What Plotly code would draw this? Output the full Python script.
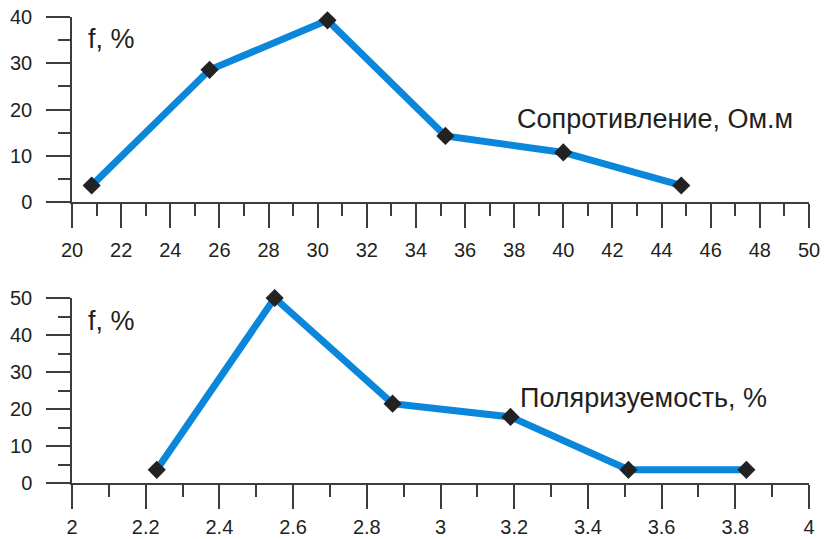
import plotly.graph_objects as go
from plotly.subplots import make_subplots

# Data
res_x = [20.8, 25.6, 30.4, 35.2, 40.0, 44.8]
res_f = [3.57, 28.57, 39.29, 14.29, 10.71, 3.57]
pol_x = [2.23, 2.55, 2.87, 3.19, 3.51, 3.83]
pol_f = [3.57, 50.0, 21.43, 17.86, 3.57, 3.57]

res_label = "Сопротивление, Ом.м"
pol_label = "Поляризуемость, %"
f_label = "f, %"

W, H = 826, 539
L, R, T, B = 72, 17, 17, 56
PW, PH = W - L - R, H - T - B

def px(xp):
    return (xp - L) / PW

def py(yp):
    return (H - B - yp) / PH

BLUE = "#0A87DB"
DARK = "#231F20"
AX = "#3C3C3C"
FONT = "Liberation Sans, Arial, sans-serif"

fig = make_subplots(rows=2, cols=1)

for x, y, r in [(res_x, res_f, 1), (pol_x, pol_f, 2)]:
    fig.add_trace(go.Scatter(
        x=x, y=y, mode="lines+markers",
        line=dict(color=BLUE, width=7),
        marker=dict(symbol="diamond", size=14, color="#222222"),
        showlegend=False, cliponaxis=False), row=r, col=1)

axis_common = dict(showgrid=False, zeroline=False, showline=True, linecolor=AX,
                   linewidth=1.5, ticks="outside", tickcolor=AX, tickwidth=1.5,
                   ticklen=24, automargin=False,
                   tickfont=dict(family=FONT, size=20, color=DARK))

fig.update_xaxes(**axis_common)
fig.update_yaxes(**axis_common, ticklabelstandoff=10)

minor = dict(ticklen=12, ticks="outside", tickcolor=AX, tickwidth=1.5)

fig.update_layout(
    xaxis=dict(domain=[0, 1], range=[20, 50], dtick=2, tick0=20,
               ticklabelstandoff=5, minor=dict(dtick=1, **minor)),
    yaxis=dict(domain=[py(202), 1], range=[0, 40], dtick=10,
               minor=dict(dtick=5, **minor)),
    xaxis2=dict(domain=[0, 1], range=[2, 4], dtick=0.2, tick0=2,
                ticklabelstandoff=1, minor=dict(dtick=0.1, **minor)),
    yaxis2=dict(domain=[0, py(298)], range=[0, 50], dtick=10,
                minor=dict(dtick=5, **minor)),
)

ann_font = dict(family=FONT, size=27, color=DARK)
annotations = [
    dict(text=f_label, x=px(86), y=py(39)),
    dict(text=f_label, x=px(86), y=py(321)),
    dict(text=res_label, x=px(515), y=py(119)),
    dict(text=pol_label, x=px(518), y=py(398)),
]
for a in annotations:
    a.update(xref="paper", yref="paper", xanchor="left", yanchor="middle",
             showarrow=False, font=ann_font)

fig.update_layout(
    width=W, height=H,
    margin=dict(l=L, r=R, t=T, b=B, autoexpand=False),
    paper_bgcolor="white", plot_bgcolor="white",
    annotations=annotations,
)

fig.write_html(
    "out.html",
    config={"displayModeBar": False},
    post_script="document.body.style.margin='0';document.body.style.overflow='hidden';",
)
